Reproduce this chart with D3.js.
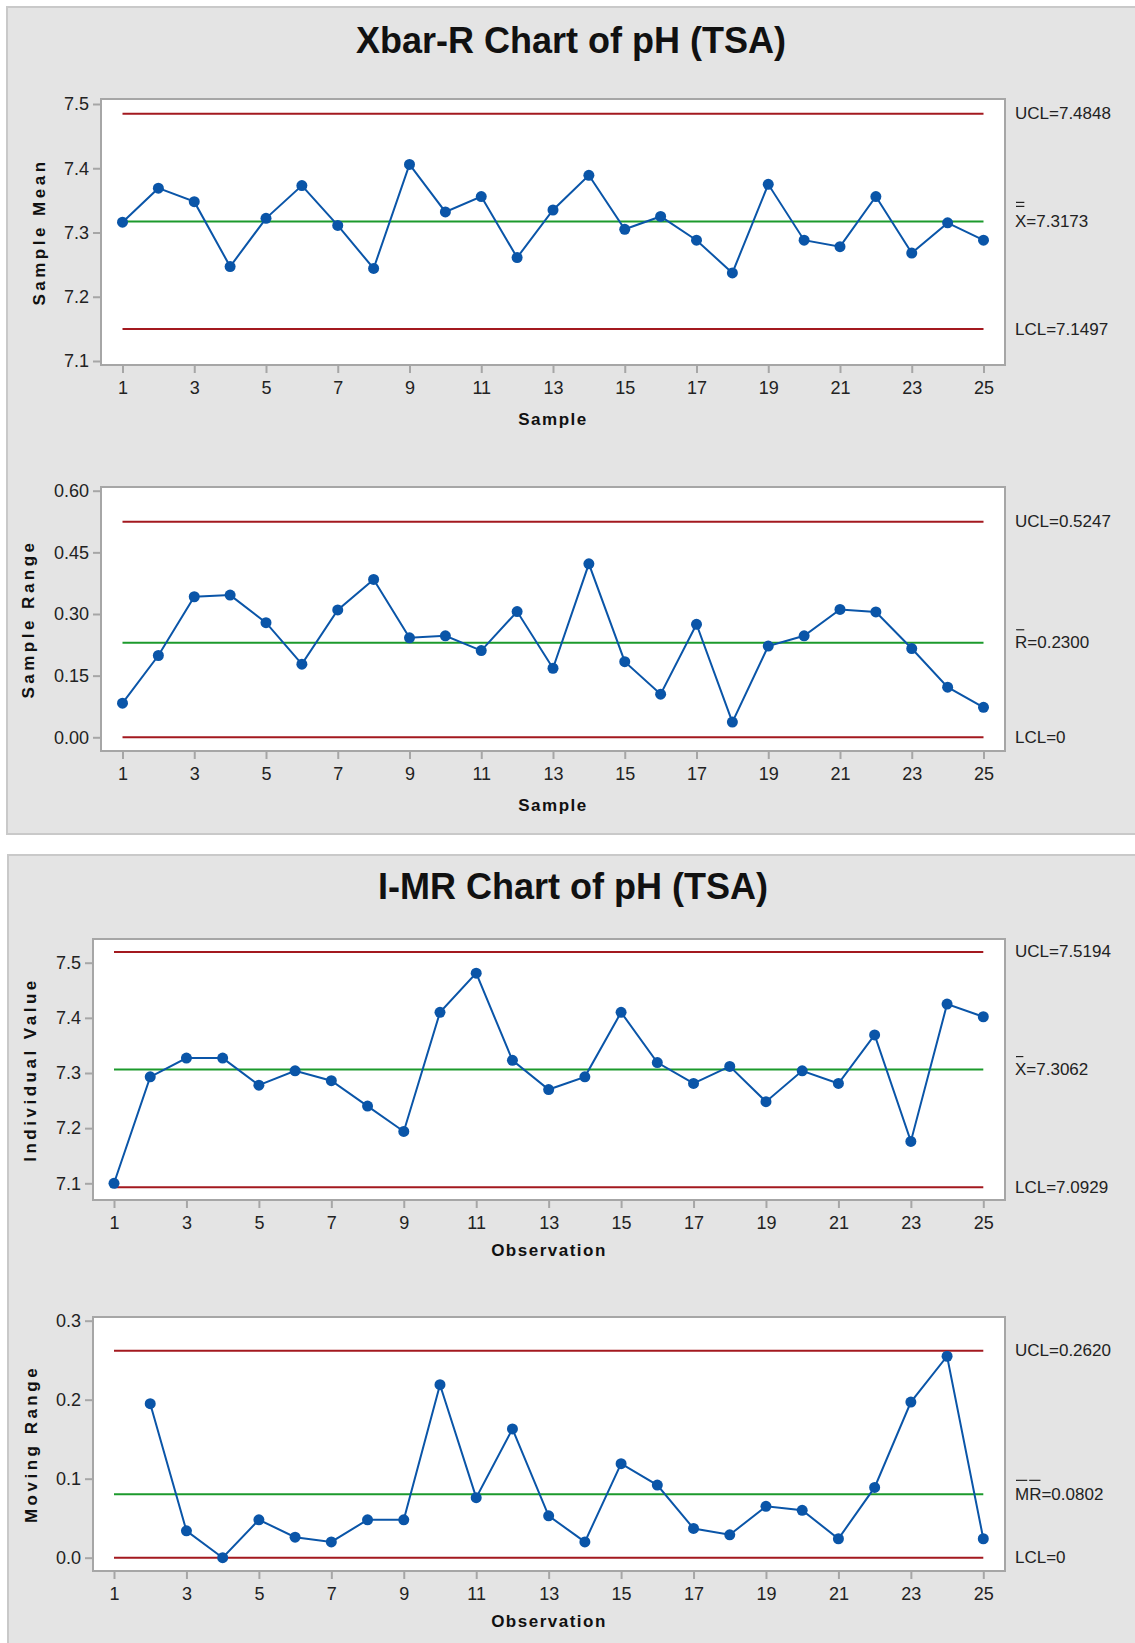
<!DOCTYPE html>
<html>
<head>
<meta charset="utf-8">
<script src="https://cdn.jsdelivr.net/npm/d3@7"></script>
<style>
  body { margin: 0; background: #fff; }
  text { font-family: "Liberation Sans", Arial, sans-serif; }
</style>
</head>
<body>
<svg id="spc"></svg>
<script>
// sample / observation numbers
var samples = [1,2,3,4,5,6,7,8,9,10,11,12,13,14,15,16,17,18,19,20,21,22,23,24,25];
var xTicks = [1,3,5,7,9,11,13,15,17,19,21,23,25];

// Xbar-R chart
var sampleMeans = [7.316,7.369,7.348,7.247,7.322,7.373,7.311,7.244,7.406,7.332,7.356,7.261,7.335,
                   7.389,7.305,7.325,7.288,7.237,7.375,7.288,7.278,7.356,7.268,7.315,7.288];
var meanLimits = [7.4848, 7.3173, 7.1497];
var meanTicks = [7.1,7.2,7.3,7.4,7.5];

var sampleRanges = [0.083,0.199,0.342,0.346,0.279,0.178,0.310,0.384,0.242,0.247,0.211,0.306,0.168,
                    0.422,0.184,0.105,0.275,0.037,0.222,0.247,0.311,0.305,0.216,0.122,0.073];
var rangeLimits = [0.5247, 0.2300, 0];
var rangeTicks = [0,0.15,0.30,0.45,0.60];

// I-MR chart
var individuals = [7.100,7.293,7.327,7.327,7.278,7.304,7.286,7.240,7.194,7.410,7.481,7.323,7.270,
                   7.293,7.410,7.319,7.281,7.312,7.248,7.304,7.281,7.369,7.176,7.425,7.402];
var indLimits = [7.5194, 7.3062, 7.0929];
var indTicks = [7.1,7.2,7.3,7.4,7.5];

var movingRanges = [null,0.195,0.034,0.000,0.048,0.026,0.020,0.048,0.048,0.219,0.076,0.163,0.053,
                    0.020,0.119,0.092,0.037,0.029,0.065,0.060,0.024,0.089,0.197,0.255,0.024];
var mrLimits = [0.2620, 0.0802, 0];
var mrTicks = [0,0.1,0.2,0.3];

var red = "#a3191f", green = "#1c9a2c", blue = "#0a55a8";

var svg = d3.select("#spc")
  .attr("width", 1135)
  .attr("height", 1643);

// grey panels
svg.append("rect").attr("x", 7).attr("y", 7).attr("width", 1140).attr("height", 827)
  .attr("fill", "#e4e4e4").attr("stroke", "#c9c9c9").attr("stroke-width", 2);
svg.append("rect").attr("x", 8).attr("y", 855).attr("width", 1140).attr("height", 800)
  .attr("fill", "#e4e4e4").attr("stroke", "#c9c9c9").attr("stroke-width", 2);

svg.append("text").attr("x", 571).attr("y", 53).attr("text-anchor", "middle")
  .attr("font-size", "36px").attr("font-weight", "bold").attr("fill", "#111")
  .text("Xbar-R Chart of pH (TSA)");
svg.append("text").attr("x", 573).attr("y", 899).attr("text-anchor", "middle")
  .attr("font-size", "36px").attr("font-weight", "bold").attr("fill", "#111")
  .text("I-MR Chart of pH (TSA)");

function drawChart(c) {
  var x = d3.scaleLinear().domain([1, 25]).range(c.xr);
  var y = d3.scaleLinear().domain([c.ticks[0], c.ticks[c.ticks.length - 1]]).range(c.yr);
  var g = svg.append("g");

  g.append("rect")
    .attr("x", c.box[0]).attr("y", c.box[1])
    .attr("width", c.box[2] - c.box[0]).attr("height", c.box[3] - c.box[1])
    .attr("fill", "#fff").attr("stroke", "#a6a6a6").attr("stroke-width", 2);

  var xa = g.append("g")
    .attr("transform", "translate(0," + c.box[3] + ")")
    .call(d3.axisBottom(x).tickValues(xTicks).tickSize(8).tickPadding(8).tickSizeOuter(0));
  var ya = g.append("g")
    .attr("transform", "translate(" + c.box[0] + ",0)")
    .call(d3.axisLeft(y).tickValues(c.ticks).tickFormat(d3.format(c.fmt)).tickSize(8).tickPadding(4).tickSizeOuter(0));
  [xa, ya].forEach(function(a) {
    a.select(".domain").remove();
    a.selectAll(".tick line").attr("stroke", "#a6a6a6").attr("stroke-width", 2);
    a.selectAll(".tick text").attr("font-size", "18px").attr("fill", "#222")
      .attr("font-family", "Liberation Sans, Arial, sans-serif");
  });

  // control limits
  var lims = [{v: c.lim[0], col: red}, {v: c.lim[1], col: green}, {v: c.lim[2], col: red}];
  g.selectAll(".lim").data(lims).enter().append("line")
    .attr("x1", x(1)).attr("x2", x(25))
    .attr("y1", function(d) { return y(d.v); })
    .attr("y2", function(d) { return y(d.v); })
    .attr("stroke", function(d) { return d.col; })
    .attr("stroke-width", 2);

  var pts = samples.map(function(s, i) { return {s: s, v: c.data[i]}; })
    .filter(function(d) { return d.v !== null; });

  g.append("path").datum(pts)
    .attr("fill", "none").attr("stroke", blue).attr("stroke-width", 2)
    .attr("d", d3.line().x(function(d) { return x(d.s); }).y(function(d) { return y(d.v); }));

  g.selectAll(".pt").data(pts).enter().append("circle")
    .attr("cx", function(d) { return x(d.s); })
    .attr("cy", function(d) { return y(d.v); })
    .attr("r", 5.5).attr("fill", blue);

  // right side labels
  var lx = c.box[2] + 10;
  c.labels.forEach(function(t, i) {
    var ly = y(c.lim[i]) + 1;
    var txt = g.append("text").attr("x", lx).attr("y", ly)
      .attr("dominant-baseline", "middle").attr("font-size", "17px").attr("fill", "#222").text(t);
    if (i === 1) {
      var w = txt.node().getSubStringLength(0, c.barChars);
      if (c.bar === "double") {
        [-20, -16].forEach(function(dy) {
          g.append("line").attr("x1", lx + 1).attr("x2", lx + w - 2)
            .attr("y1", ly + dy).attr("y2", ly + dy)
            .attr("stroke", "#222").attr("stroke-width", 1.2);
        });
      } else if (c.bar === "dash") {
        [[1, w / 2 - 1], [w / 2 + 1, w - 1]].forEach(function(p) {
          g.append("line").attr("x1", lx + p[0]).attr("x2", lx + p[1])
            .attr("y1", ly - 15).attr("y2", ly - 15)
            .attr("stroke", "#222").attr("stroke-width", 1.2);
        });
      } else {
        g.append("line").attr("x1", lx + 1).attr("x2", lx + w - 3)
          .attr("y1", ly - 14).attr("y2", ly - 14)
          .attr("stroke", "#222").attr("stroke-width", 1.2);
      }
    }
  });

  // axis titles
  g.append("text")
    .attr("x", (c.box[0] + c.box[2]) / 2).attr("y", c.xly)
    .attr("text-anchor", "middle").attr("dominant-baseline", "middle")
    .attr("font-size", "17px").attr("font-weight", "bold").attr("letter-spacing", "1.5px")
    .attr("fill", "#111").text(c.xlab);
  g.append("text")
    .attr("transform", "translate(" + c.ylx + "," + (c.box[1] + c.box[3]) / 2 + ") rotate(-90)")
    .attr("text-anchor", "middle").attr("dominant-baseline", "middle")
    .attr("font-size", "17px").attr("font-weight", "bold").attr("letter-spacing", "3.5px")
    .attr("fill", "#111").text(c.ylab);
}

drawChart({
  box: [101, 99, 1005, 365], xr: [122.5, 983.5], yr: [361, 104],
  data: sampleMeans, lim: meanLimits, ticks: meanTicks, fmt: ".1f",
  labels: ["UCL=7.4848", "X=7.3173", "LCL=7.1497"], bar: "double", barChars: 1,
  xlab: "Sample", xly: 421, ylab: "Sample Mean", ylx: 41
});
drawChart({
  box: [101, 487, 1005, 751], xr: [122.5, 983.5], yr: [737.3, 490.7],
  data: sampleRanges, lim: rangeLimits, ticks: rangeTicks, fmt: ".2f",
  labels: ["UCL=0.5247", "R=0.2300", "LCL=0"], bar: "single", barChars: 1,
  xlab: "Sample", xly: 807, ylab: "Sample Range", ylx: 30
});
drawChart({
  box: [93, 939, 1005, 1200], xr: [114, 983.3], yr: [1183.3, 962.7],
  data: individuals, lim: indLimits, ticks: indTicks, fmt: ".1f",
  labels: ["UCL=7.5194", "X=7.3062", "LCL=7.0929"], bar: "single", barChars: 1,
  xlab: "Observation", xly: 1252, ylab: "Individual Value", ylx: 32
});
drawChart({
  box: [93, 1317, 1005, 1571], xr: [114, 983.3], yr: [1557.7, 1320.7],
  data: movingRanges, lim: mrLimits, ticks: mrTicks, fmt: ".1f",
  labels: ["UCL=0.2620", "MR=0.0802", "LCL=0"], bar: "dash", barChars: 2,
  xlab: "Observation", xly: 1623, ylab: "Moving Range", ylx: 33
});
</script>
</body>
</html>
